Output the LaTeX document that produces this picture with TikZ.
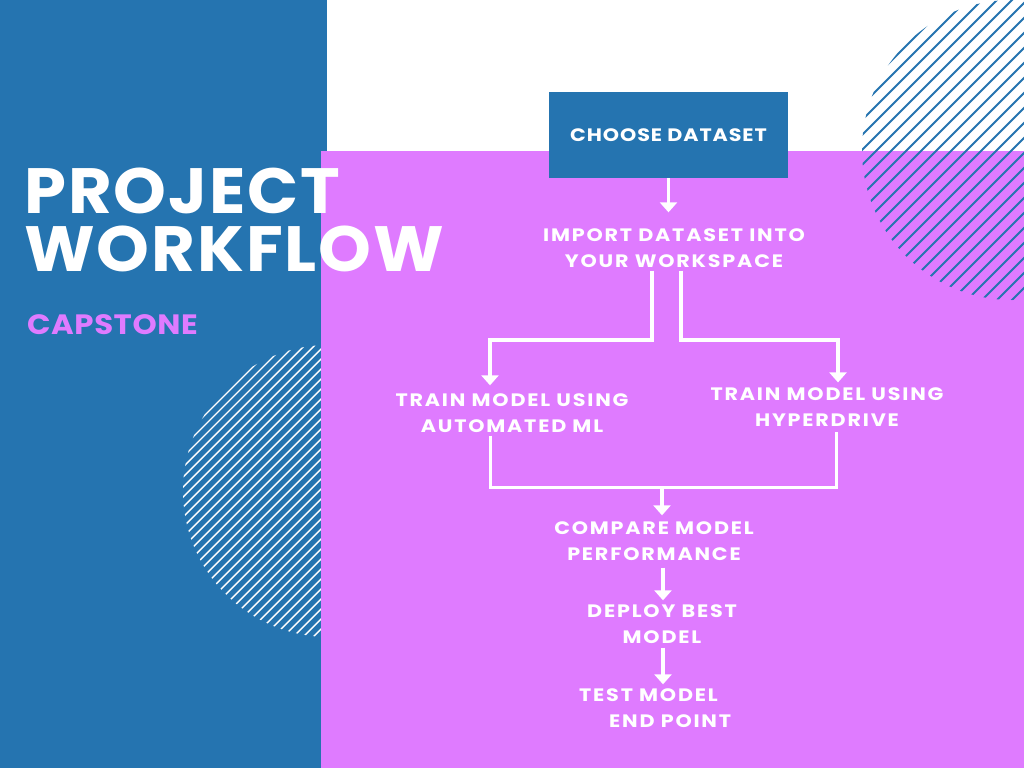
\documentclass[tikz,border=0pt]{standalone}
\usepackage{fontspec}
\setmainfont{Poppins}
\usetikzlibrary{arrows.meta}
\definecolor{bl}{HTML}{2574B0}
\definecolor{pk}{HTML}{DF7BFF}
\tikzset{
  flow/.style={text=white, font=\bfseries\fontsize{18}{26}\selectfont\addfontfeatures{FakeStretch=1.15,LetterSpace=10}, align=center, inner sep=0pt},
  conn/.style={draw=white, line width=3pt},
  arr/.style={draw=white, line width=3.5pt, -{Triangle[width=17pt,length=10pt]}},
  title/.style={anchor=base west, text=white, font=\bfseries\fontsize{64}{58}\selectfont\addfontfeatures{FakeStretch=1.05,LetterSpace=3}, inner sep=0pt},
}
\begin{document}
\begin{tikzpicture}[x=1pt,y=-1pt]
\useasboundingbox (0,0) rectangle (1024,768);
\fill[white] (0,0) rectangle (1024,768);
\fill[bl] (0,0) rectangle (327,768);
\begin{scope}
  \clip (329,491) circle (146pt);
  \foreach \i in {-40,...,40} \draw[white, line width=1.4pt] ({329+\i*10-200},691) -- ++(400,-400);
\end{scope}
\fill[pk] (321,151) rectangle (1024,768);
\begin{scope}
  \clip (1012,150) circle (150pt);
  \foreach \i in {-25,...,25} \draw[bl, line width=2pt] ({1012+\i*15-200},350) -- ++(400,-400);
\end{scope}

\node[title] (t1) at (24,213) {PROJECT};
\node[title] (t2) at (24,271) {WORKFLOW};
\node[anchor=base west, text=pk, font=\bfseries\fontsize{28}{30}\selectfont\addfontfeatures{FakeStretch=1.1,LetterSpace=2}, inner sep=0pt] (cap) at (27,334) {CAPSTONE};

\node[fill=bl, minimum width=239pt, minimum height=86pt, inner sep=0pt, text=white, font=\bfseries\fontsize{18}{26}\selectfont\addfontfeatures{FakeStretch=1.15,LetterSpace=5}] (choose) at (668.5,135) {CHOOSE DATASET};
\node[flow] (imp) at (674,248) {IMPORT DATASET INTO\\YOUR WORKSPACE};
\node[flow] (aml) at (512,413) {TRAIN MODEL USING\\AUTOMATED ML};
\node[flow] (hyp) at (827,407) {TRAIN MODEL USING\\HYPERDRIVE};
\node[flow] (cmp) at (654,541) {COMPARE MODEL\\PERFORMANCE};
\node[flow] (dep) at (662,624) {DEPLOY BEST\\MODEL};
\node[flow, align=left, anchor=west] (tst) at (579,708) {TEST MODEL\\\hspace*{30pt}END POINT};

\coordinate (sp) at (667,340);
\coordinate (j) at (662,487);

\draw[arr] (choose.south) -- ([yshift=16pt]imp.north -| choose.south);
\draw[arr] ([xshift=-22pt,yshift=-3pt]imp.south) |- ([xshift=-21pt]sp) -| ([xshift=-22pt,yshift=8pt]aml.north);
\draw[arr] ([xshift=7pt,yshift=-3pt]imp.south) |- ([xshift=14pt]sp) -| ([xshift=11pt,yshift=5pt]hyp.north);
\draw[conn] ([xshift=-22pt,yshift=-3pt]aml.south) |- (j) -| ([xshift=9pt,yshift=-5pt]hyp.south);
\draw[arr] (j) -- ([yshift=6pt]j |- cmp.north);
\draw[arr] ([xshift=1pt,yshift=-7pt]cmp.south -| dep.north) -- ([xshift=1pt,yshift=4pt]dep.north);
\draw[arr] ([xshift=1pt,yshift=-4pt]dep.south) -- ([xshift=1pt,yshift=4pt]dep.south |- tst.north);
\end{tikzpicture}
\end{document}
